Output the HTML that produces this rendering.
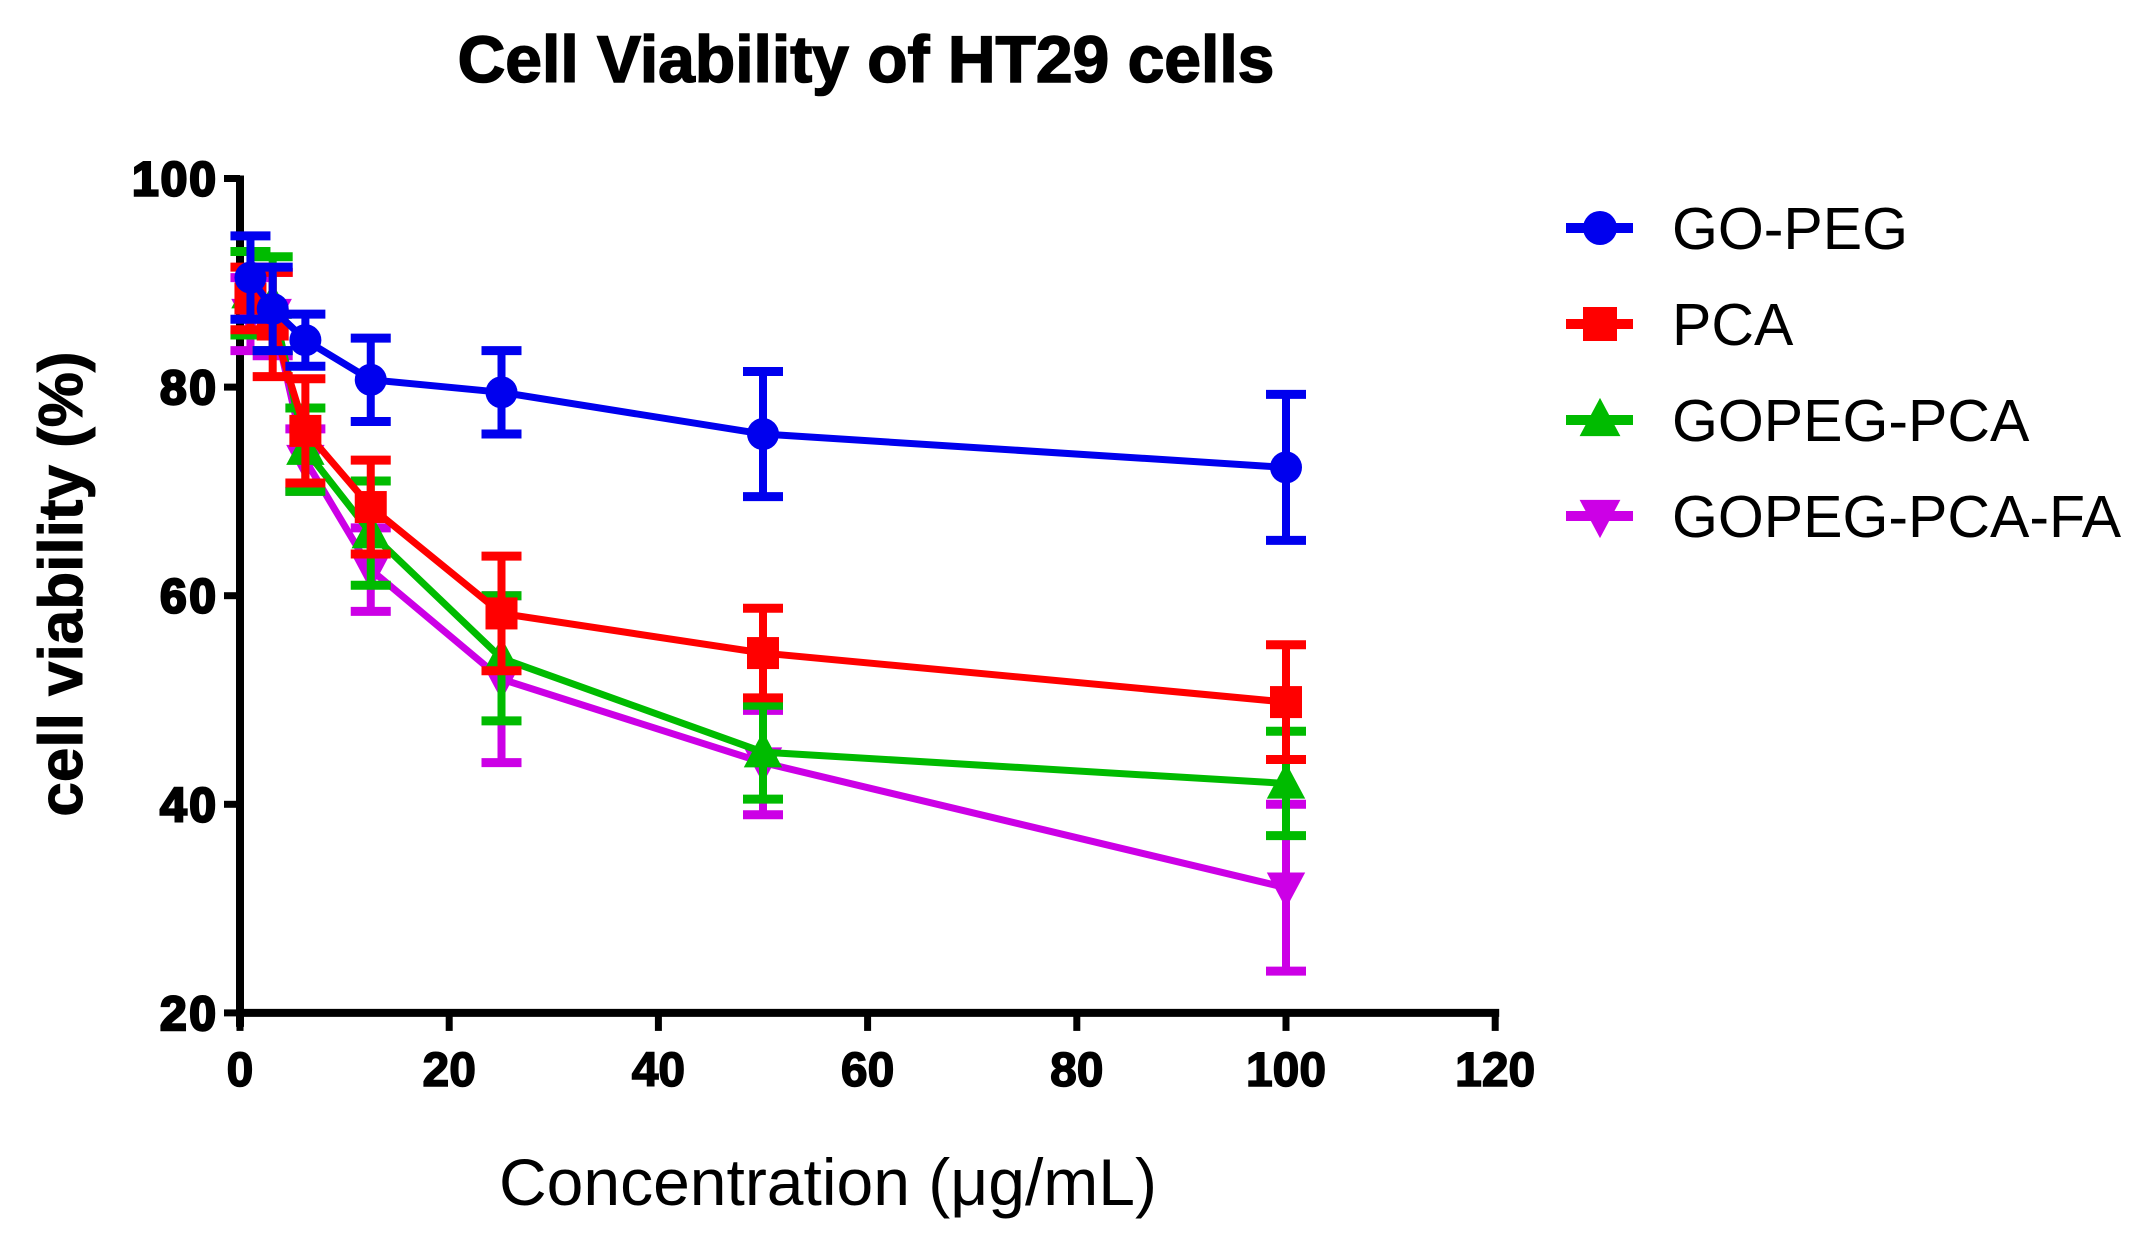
<!DOCTYPE html>
<html><head><meta charset="utf-8"><style>
html,body{margin:0;padding:0;background:#fff;}
svg{display:block;font-family:"Liberation Sans",Arial,sans-serif;}
</style></head><body>
<svg id="s" width="2153" height="1233" viewBox="0 0 2153 1233" xmlns="http://www.w3.org/2000/svg">
<text x="866" y="82" font-size="66" font-weight="bold" text-anchor="middle" stroke="#000" stroke-width="1.5">Cell  Viability of HT29 cells</text>
<text transform="translate(82,584) rotate(-90)" font-size="62" font-weight="bold" text-anchor="middle" stroke="#000" stroke-width="1">cell viability  (%)</text>
<text x="828" y="1205" font-size="66" text-anchor="middle">Concentration (μg/mL)</text>
<g id="g"></g>
</svg>
<script>
const NS="http://www.w3.org/2000/svg",g=document.getElementById('g');
const X=v=>240+v*10.46, Y=v=>178.5+(100-v)*10.43;
function el(t,a,txt){const e=document.createElementNS(NS,t);for(const k in a)e.setAttribute(k,a[k]);if(txt!=null)e.textContent=txt;g.appendChild(e);return e;}
el('line',{x1:240,y1:Y(100)-3,x2:240,y2:Y(20)+14,stroke:'#000','stroke-width':8});
el('line',{x1:236,y1:Y(20),x2:X(120)+4,y2:Y(20),stroke:'#000','stroke-width':8});
for(let v=20;v<=100;v+=20){el('line',{x1:224,y1:Y(v),x2:240,y2:Y(v),stroke:'#000','stroke-width':7});
 el('text',{x:216,y:Y(v)+17,'font-size':48,'font-weight':'bold','text-anchor':'end',stroke:'#000','stroke-width':2.5,textLength:v==100?84:56},v);}
for(let v=0;v<=120;v+=20){el('line',{x1:X(v),y1:Y(20),x2:X(v),y2:Y(20)+18,stroke:'#000','stroke-width':7});
 el('text',{x:X(v),y:1086,'font-size':48,'font-weight':'bold','text-anchor':'middle',stroke:'#000','stroke-width':1.5},v);}
const xs=[1,3.125,6.25,12.5,25,50,100];
const S=[
 {c:'#cc00e6',m:'dn',y:[87,87,73,62.5,52,44,32],e:[3.5,4,3,4,8,5,8]},
 {c:'#00bb00',m:'up',y:[89,88,74,66,54,45,42],e:[4,4.5,4,5,6,4.5,5]},
 {c:'#ff0000',m:'sq',y:[88.5,86,75.8,68.5,58.3,54.5,49.8],e:[3,5,5,4.5,5.5,4.3,5.5]},
 {c:'#0000ee',m:'ci',y:[90.5,87.5,84.5,80.7,79.5,75.5,72.3],e:[4,4,2.5,4,4,6,7]}
];
function mark(m,x,y,c,r){
 if(m=='ci')el('circle',{cx:x,cy:y,r:r,fill:c});
 else if(m=='sq')el('rect',{x:x-r,y:y-r,width:2*r,height:2*r,fill:c});
 else if(m=='up')el('polygon',{points:`${x},${y-r*1.3} ${x-r*1.2},${y+r*0.95} ${x+r*1.2},${y+r*0.95}`,fill:c});
 else el('polygon',{points:`${x},${y+r*1.3} ${x-r*1.2},${y-r*0.95} ${x+r*1.2},${y-r*0.95}`,fill:c});
}
S.forEach(s=>{
 el('polyline',{points:xs.map((x,i)=>X(x)+','+Y(s.y[i])).join(' '),fill:'none',stroke:s.c,'stroke-width':7});
 xs.forEach((x,i)=>{const px=X(x),t=Y(s.y[i]+s.e[i]),b=Y(s.y[i]-s.e[i]);
  el('line',{x1:px,y1:t,x2:px,y2:b,stroke:s.c,'stroke-width':8});
  el('line',{x1:px-20,y1:t,x2:px+20,y2:t,stroke:s.c,'stroke-width':9});
  el('line',{x1:px-20,y1:b,x2:px+20,y2:b,stroke:s.c,'stroke-width':9});
  mark(s.m,px,Y(s.y[i]),s.c,16);});
});
const L=[['#0000ee','ci','GO-PEG'],['#ff0000','sq','PCA'],['#00bb00','up','GOPEG-PCA'],['#cc00e6','dn','GOPEG-PCA-FA']];
L.forEach((l,i)=>{const y=228+i*96;
 el('line',{x1:1566,y1:y,x2:1633,y2:y,stroke:l[0],'stroke-width':10});
 mark(l[1],1600,y,l[0],17);
 el('text',{x:1672,y:y+21,'font-size':59},l[2]);});
</script>
</body></html>
